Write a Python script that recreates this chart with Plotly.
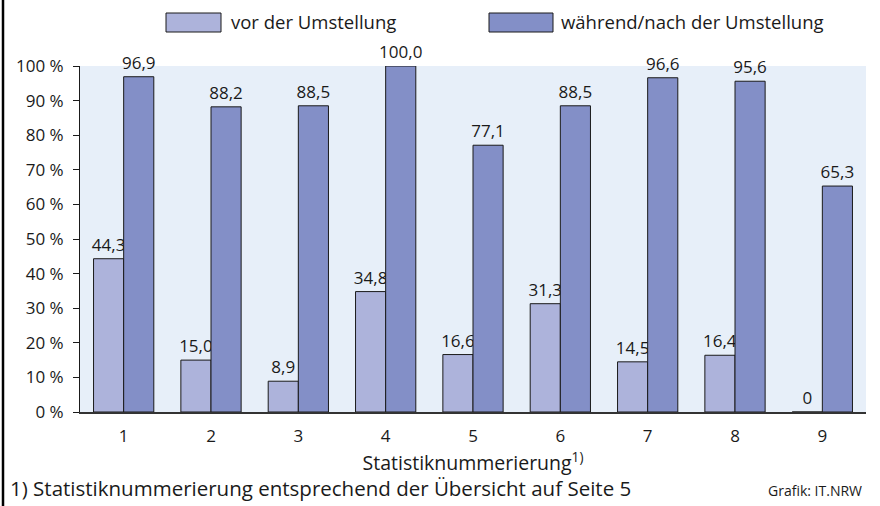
import plotly.graph_objects as go

categories = ["1", "2", "3", "4", "5", "6", "7", "8", "9"]
vor = [44.3, 15.0, 8.9, 34.8, 16.6, 31.3, 14.5, 16.4, 0]
nach = [96.9, 88.2, 88.5, 100.0, 77.1, 88.5, 96.6, 95.6, 65.3]
tick_vals = [0, 10, 20, 30, 40, 50, 60, 70, 80, 90, 100]
tick_text = [f"{v} %" for v in tick_vals]
series_names = ["vor der Umstellung", "während/nach der Umstellung"]

LIGHT = "#adb3db"
DARK = "#838fc7"
BG = "#e7eff9"
FONT = "Open Sans"
TXT = "#1a1a1a"

def fmt(v):
    return "0" if v == 0 else f"{v:.1f}".replace(".", ",")

W, H = 880, 506
ML, MR, MT, MB = 80, 14, 66, 94
PW, PH = W - ML - MR, H - MT - MB

def px(x):
    return (x - ML) / PW

def py(y):
    return (H - MB - y) / PH

fig = go.Figure()
for name, vals, col in [(series_names[0], vor, LIGHT), (series_names[1], nach, DARK)]:
    fig.add_trace(go.Bar(
        x=categories, y=vals, name=name,
        marker=dict(color=col, line=dict(color=TXT, width=1)),
        text=[fmt(v) for v in vals], textposition="outside",
        textfont=dict(family=FONT, size=17, color=TXT),
        constraintext="none",
        cliponaxis=False, showlegend=False,
    ))

shapes = [
    dict(type="line", xref="paper", yref="paper", x0=px(3), x1=px(3), y0=py(H), y1=py(0),
         line=dict(color="black", width=2.5)),
    dict(type="rect", xref="paper", yref="paper", x0=px(166), x1=px(221), y0=py(32), y1=py(13),
         fillcolor=LIGHT, line=dict(color=TXT, width=1)),
    dict(type="rect", xref="paper", yref="paper", x0=px(489), x1=px(553), y0=py(32), y1=py(13),
         fillcolor=DARK, line=dict(color=TXT, width=1)),
]

annotations = [
    dict(text=series_names[0], xref="paper", yref="paper", x=px(229), y=py(22), xanchor="left",
         yanchor="middle", showarrow=False, font=dict(family=FONT, size=18.5, color=TXT)),
    dict(text=series_names[1], xref="paper", yref="paper", x=px(559), y=py(22), xanchor="left",
         yanchor="middle", showarrow=False, font=dict(family=FONT, size=18.5, color=TXT)),
    dict(text="1) Statistiknummerierung entsprechend der Übersicht auf Seite 5", xref="paper", yref="paper",
         x=px(8), y=py(488), xanchor="left", yanchor="middle", showarrow=False,
         font=dict(family=FONT, size=20.5, color=TXT)),
    dict(text="Grafik: IT.NRW", xref="paper", yref="paper", x=px(864), y=py(490), xanchor="right",
         yanchor="middle", showarrow=False, font=dict(family=FONT, size=14, color=TXT)),
]

fig.update_layout(
    width=W, height=H,
    margin=dict(l=ML, r=MR, t=MT, b=MB),
    paper_bgcolor="white", plot_bgcolor=BG,
    barmode="group", bargap=0.31, bargroupgap=0,
    font=dict(family=FONT, size=17, color=TXT),
    shapes=shapes, annotations=annotations,
    xaxis=dict(
        showgrid=False, showline=True, linecolor="#333333", linewidth=1.5,
        ticks="", ticklabelstandoff=8, tickfont=dict(family=FONT, size=17, color=TXT),
        title=dict(text="Statistiknummerierung<sup>1)</sup>", font=dict(family=FONT, size=19.5, color=TXT), standoff=2),
    ),
    yaxis=dict(
        range=[0, 100], tickvals=tick_vals, ticktext=tick_text,
        showgrid=False, showline=True, linecolor=TXT, linewidth=1,
        ticks="outside", ticklen=6, tickcolor=TXT, ticklabelstandoff=6,
        tickfont=dict(family=FONT, size=17, color=TXT), zeroline=False,
    ),
)

fig.write_html("out.html", config={"displayModeBar": False},
               post_script="document.body.style.margin='0';document.body.style.overflow='hidden';")
